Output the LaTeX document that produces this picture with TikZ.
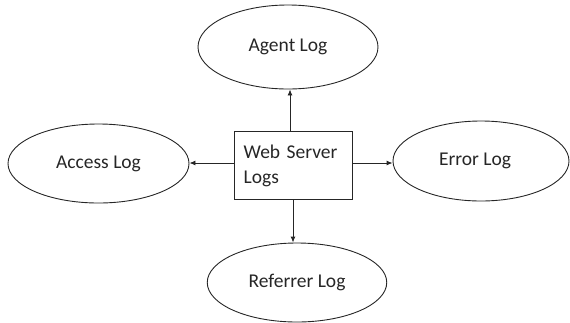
\documentclass[tikz,border=0pt]{standalone}
\usepackage{fontspec}
\setmainfont{Carlito}
\usetikzlibrary{shapes.geometric,arrows.meta,calc}
\begin{document}
\begin{tikzpicture}[x=1pt,y=-1pt,
  every node/.style={font=\fontsize{19.5}{25}\selectfont, text=black!85},
  logell/.style={draw=black!85, line width=0.9pt, ellipse, inner sep=0pt},
  srvbox/.style={draw=black!85, line width=0.9pt, rectangle, minimum width=118pt, minimum height=67.6pt, text width=98.8pt, inner xsep=9.6pt, inner ysep=0pt, align=left},
  conn/.style={draw=black!85, line width=0.9pt, -{Latex[length=6pt,width=5pt]}}]
\useasboundingbox (0,0) rectangle (570,322);
\node[srvbox] (ws) at (293,165.5) {Web Server\\Logs};
\node[logell, minimum width=180pt, minimum height=84pt] (agent) at (288,47) {Agent Log};
\node[logell, minimum width=181pt, minimum height=79pt] (access) at (98.5,163.5) {Access Log};
\node[logell, minimum width=176pt, minimum height=80pt] (error) at (481,161) {\hspace*{-12pt}Error Log};
\node[logell, minimum width=179.5pt, minimum height=79pt] (ref) at (297,282.5) {Referrer Log};
\draw[conn] (ws.north -| 290,0) -- (agent.south -| 290,0);
\draw[conn] (ws.south -| 293,0) -- (ref.north -| 293,0);
\draw[conn] (ws.west |- 0,163) -- (access.east |- 0,163);
\draw[conn] (ws.east |- 0,163) -- (error.west |- 0,163);
\end{tikzpicture}
\end{document}
